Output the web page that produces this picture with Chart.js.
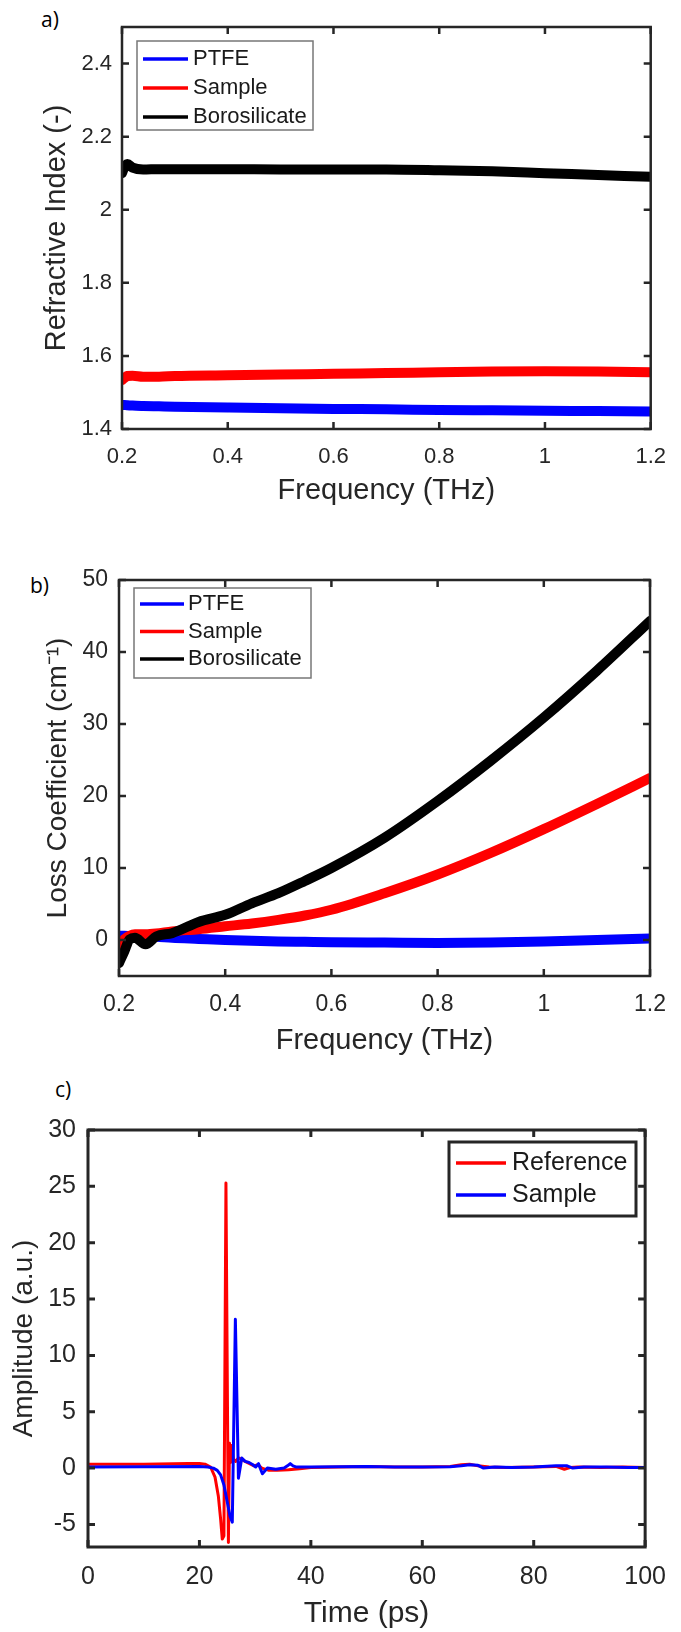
<!DOCTYPE html>
<html>
<head>
<meta charset="utf-8">
<script src="https://cdn.jsdelivr.net/npm/chart.js@4.4.1/dist/chart.umd.min.js"></script>
<style>
  body { margin: 0; background: #fff; }
  #page { position: relative; width: 681px; height: 1632px; overflow: hidden; }
  #page canvas { position: absolute; left: 0; }
  .tag { position: absolute; font-family: "Open Sans", sans-serif; font-size: 21px; line-height: 21px; color: #000; }
</style>
</head>
<body>
<div id="page">
  <div class="tag" style="left:41px; top:9px">a)</div>
  <div class="tag" style="left:30px; top:575px">b)</div>
  <div class="tag" style="left:55px; top:1079px">c)</div>
  <canvas id="chartA" width="681" height="508" style="top:0px"></canvas>
  <canvas id="chartB" width="681" height="538" style="top:520px"></canvas>
  <canvas id="chartC" width="681" height="562" style="top:1070px"></canvas>
</div>
<script>
// a) refractive index vs frequency
const freqA = [0.2, 0.205, 0.21, 0.22, 0.24, 0.27, 0.3, 0.4, 0.5, 0.6, 0.7, 0.8, 0.9, 1.0, 1.1, 1.2];
const ptfeA = [1.466, 1.466, 1.465, 1.464, 1.463, 1.462, 1.461, 1.459, 1.457, 1.455, 1.454, 1.452, 1.451, 1.450, 1.449, 1.448];
const sampleA = [1.534, 1.540, 1.545, 1.546, 1.543, 1.543, 1.545, 1.547, 1.549, 1.551, 1.553, 1.555, 1.557, 1.558, 1.557, 1.555];
const boroA = [2.100, 2.118, 2.125, 2.115, 2.110, 2.111, 2.111, 2.111, 2.110, 2.110, 2.110, 2.108, 2.105, 2.100, 2.095, 2.090];

// b) loss coefficient vs frequency
const freqB = [0.2, 0.21, 0.22, 0.23, 0.25, 0.27, 0.3, 0.35, 0.4, 0.45, 0.5, 0.55, 0.6, 0.7, 0.8, 0.9, 1.0, 1.1, 1.2];
const ptfeB = [0.6, 0.6, 0.55, 0.5, 0.5, 0.45, 0.3, 0.15, 0.0, -0.1, -0.2, -0.25, -0.3, -0.35, -0.4, -0.35, -0.2, 0.0, 0.2];
const sampleB = [-0.9, 0.1, 0.6, 0.8, 0.8, 0.9, 1.2, 1.5, 1.9, 2.3, 2.8, 3.4, 4.2, 6.5, 9.1, 12.1, 15.4, 18.9, 22.5];
const boroB = [-3.2, -1.6, 0.1, 0.3, -0.6, 0.5, 0.95, 2.5, 3.5, 5.1, 6.5, 8.2, 10.0, 14.2, 19.3, 24.9, 30.9, 37.4, 44.3];

// c) time domain signals
const refTime = [0, 10, 18, 20, 21, 22, 22.8, 23.4, 23.8, 24.1, 24.4, 24.76, 25.2, 25.4, 25.6, 25.8, 26.1, 26.5, 27.0, 27.5, 28.2, 29.0, 29.8, 30.5, 31.2, 32.5, 34, 36, 38, 40, 45, 50, 55, 60, 65, 67, 68.5, 70, 72, 75, 80, 84, 85.5, 86.5, 88, 92, 96, 100];
const refAmp = [0.35, 0.35, 0.4, 0.4, 0.35, 0.1, -0.8, -2.5, -4.5, -6.3, -6.0, 25.3, -6.6, 2.2, 0.5, 2.0, 0.8, 0.6, 0.9, 0.8, 0.6, 0.4, 0.2, 0.3, 0.0, -0.2, -0.2, -0.15, -0.05, 0.05, 0.1, 0.15, 0.1, 0.1, 0.15, 0.3, 0.35, 0.2, 0.1, 0.05, 0.1, 0.15, -0.1, 0.05, 0.1, 0.05, 0.1, 0.05];
const sampTime = [0, 10, 20, 21.5, 22.5, 23.2, 23.8, 24.4, 25.0, 25.5, 25.9, 26.45, 27.0, 27.6, 28.2, 28.9, 29.6, 30.1, 30.6, 31.3, 32.2, 33.7, 35.2, 35.8, 36.3, 36.8, 37.3, 40, 45, 50, 55, 60, 65, 67, 68.5, 70, 71, 73, 76, 80, 84, 86, 87, 89, 93, 97, 100];
const sampAmp = [0.1, 0.12, 0.15, 0.1, 0.0, -0.2, -0.6, -1.5, -3.0, -4.3, -4.8, 13.2, -0.9, 0.9, 0.6, 0.5, 0.3, 0.1, 0.4, -0.5, 0.0, -0.1, 0.0, 0.2, 0.4, 0.2, 0.1, 0.1, 0.12, 0.15, 0.1, 0.1, 0.12, 0.2, 0.3, 0.25, 0.0, 0.1, 0.05, 0.1, 0.2, 0.2, 0.0, 0.1, 0.1, 0.05, 0.05];

// tick values
const freqTicks = [0.2, 0.4, 0.6, 0.8, 1, 1.2];
const indexTicks = [1.4, 1.6, 1.8, 2, 2.2, 2.4];
const lossTicks = [0, 10, 20, 30, 40, 50];
const timeTicks = [0, 20, 40, 60, 80, 100];
const ampTicks = [-5, 0, 5, 10, 15, 20, 25, 30];

Chart.defaults.font.family = '"Liberation Sans", Arial, sans-serif';
Chart.defaults.color = '#262626';

const toPoints = (xs, ys) => xs.map((x, i) => ({ x: x, y: ys[i] }));

// MATLAB style box with ticks pointing inward on all four sides
const matlabBox = {
    id: 'matlabBox',
    afterDatasetsDraw(chart, args, opts) {
        const { ctx, chartArea: a, scales } = chart;
        const t = opts.tick;
        ctx.save();
        ctx.strokeStyle = opts.color;
        ctx.lineWidth = opts.width;
        ctx.beginPath();
        scales.x.ticks.forEach(tk => {
            const px = scales.x.getPixelForValue(tk.value);
            ctx.moveTo(px, a.bottom); ctx.lineTo(px, a.bottom - t);
            ctx.moveTo(px, a.top); ctx.lineTo(px, a.top + t);
        });
        scales.y.ticks.forEach(tk => {
            const py = scales.y.getPixelForValue(tk.value);
            ctx.moveTo(a.left, py); ctx.lineTo(a.left + t, py);
            ctx.moveTo(a.right, py); ctx.lineTo(a.right - t, py);
        });
        ctx.stroke();
        ctx.strokeRect(a.left, a.top, a.right - a.left, a.bottom - a.top);
        ctx.restore();
    }
};

// legend drawn as a box inside the axes
const boxLegend = {
    id: 'boxLegend',
    afterDraw(chart, args, o) {
        const ctx = chart.ctx;
        ctx.save();
        ctx.fillStyle = '#fff';
        ctx.fillRect(o.left, o.top, o.width, o.height);
        ctx.strokeStyle = o.border;
        ctx.lineWidth = o.borderWidth;
        ctx.strokeRect(o.left, o.top, o.width, o.height);
        const items = chart.data.datasets.slice().sort((p, q) => q.order - p.order);
        items.forEach((ds, i) => {
            const yy = o.top + o.firstRow + i * o.rowGap;
            ctx.strokeStyle = ds.borderColor;
            ctx.lineWidth = o.lineWidth;
            ctx.beginPath();
            ctx.moveTo(o.lineX, yy);
            ctx.lineTo(o.lineX + o.lineLen, yy);
            ctx.stroke();
            ctx.fillStyle = '#1a1a1a';
            ctx.font = o.font;
            ctx.textBaseline = 'middle';
            ctx.fillText(ds.label, o.textX, yy);
        });
        ctx.restore();
    }
};

function axis(min, max, tickList, fit, tickSize, tickPad, title, titleSize, titlePad, horizontal) {
    return {
        type: 'linear',
        min: min,
        max: max,
        afterBuildTicks: s => { s.ticks = tickList.map(v => ({ value: v })); },
        afterFit: s => { if (horizontal) { s.height = fit; } else { s.width = fit; } },
        grid: { display: false, drawTicks: false },
        border: { display: false },
        ticks: {
            padding: tickPad,
            autoSkip: false,
            maxRotation: 0,
            color: '#262626',
            font: { size: tickSize },
            callback: v => String(v)
        },
        title: {
            display: true,
            text: title,
            color: '#262626',
            font: { size: titleSize },
            padding: horizontal ? { top: 0, bottom: titlePad } : { top: titlePad, bottom: 0 }
        }
    };
}

function lineSet(label, xs, ys, color, width, order, smooth) {
    return {
        label: label,
        data: toPoints(xs, ys),
        borderColor: color,
        backgroundColor: color,
        borderWidth: width,
        pointRadius: 0,
        borderCapStyle: 'round',
        borderJoinStyle: 'round',
        cubicInterpolationMode: smooth ? 'monotone' : 'default',
        tension: 0,
        order: order
    };
}

const common = {
    responsive: false,
    animation: false,
    events: [],
    plugins: { legend: { display: false }, tooltip: { enabled: false } }
};

// Grafik a
new Chart(document.getElementById('chartA').getContext('2d'), {
    type: 'line',
    data: {
        datasets: [
            lineSet('PTFE', freqA, ptfeA, '#0000ff', 10, 3, true),
            lineSet('Sample', freqA, sampleA, '#ff0000', 10, 2, true),
            lineSet('Borosilicate', freqA, boroA, '#000000', 10, 1, true)
        ]
    },
    options: Object.assign({}, common, {
        layout: { padding: { top: 27, right: 18, left: 0, bottom: 0 } },
        scales: {
            x: axis(0.2, 1.2, freqTicks, 79, 22, 15, 'Frequency (THz)', 29, 0, true),
            y: axis(1.4, 2.5, indexTicks, 122, 22, 10, 'Refractive Index (-)', 29, 40, false)
        },
        plugins: Object.assign({}, common.plugins, {
            matlabBox: { color: '#262626', width: 2.5, tick: 7 },
            boxLegend: { left: 137, top: 41, width: 176, height: 89, firstRow: 18, rowGap: 29,
                lineX: 143, lineLen: 45, textX: 193, lineWidth: 3.5,
                font: '22px "Liberation Sans", Arial, sans-serif', border: '#777', borderWidth: 1.5 }
        })
    }),
    plugins: [matlabBox, boxLegend]
});

// Grafik b
new Chart(document.getElementById('chartB').getContext('2d'), {
    type: 'line',
    data: {
        datasets: [
            lineSet('PTFE', freqB, ptfeB, '#0000ff', 10, 3, true),
            lineSet('Sample', freqB, sampleB, '#ff0000', 10, 2, true),
            lineSet('Borosilicate', freqB, boroB, '#000000', 10, 1, true)
        ]
    },
    options: Object.assign({}, common, {
        layout: { padding: { top: 60, right: 30, left: 0, bottom: 0 } },
        scales: {
            x: axis(0.2, 1.2, freqTicks, 82, 23, 15, 'Frequency (THz)', 29, 0, true),
            y: axis(-5, 50, lossTicks, 119, 23, 11, 'Loss Coefficient (cm\u207B\u00B9)', 28, 41, false)
        },
        plugins: Object.assign({}, common.plugins, {
            matlabBox: { color: '#262626', width: 2.5, tick: 7 },
            boxLegend: { left: 134, top: 68, width: 177, height: 90, firstRow: 16, rowGap: 27.5,
                lineX: 140, lineLen: 44, textX: 188, lineWidth: 3.5,
                font: '22px "Liberation Sans", Arial, sans-serif', border: '#777', borderWidth: 1.5 }
        })
    }),
    plugins: [matlabBox, boxLegend]
});

// Grafik c
new Chart(document.getElementById('chartC').getContext('2d'), {
    type: 'line',
    data: {
        datasets: [
            lineSet('Reference', refTime, refAmp, '#ff0000', 3, 2, false),
            lineSet('Sample', sampTime, sampAmp, '#0000ff', 3, 1, false)
        ]
    },
    options: Object.assign({}, common, {
        layout: { padding: { top: 60, right: 33, left: 0, bottom: 0 } },
        scales: {
            x: axis(0, 100, timeTicks, 85, 25, 15, 'Time (ps)', 30, 0, true),
            y: axis(-7, 30, ampTicks, 88, 25, 12, 'Amplitude (a.u.)', 28, 7, false)
        },
        plugins: Object.assign({}, common.plugins, {
            matlabBox: { color: '#262626', width: 3, tick: 7 },
            boxLegend: { left: 449, top: 72, width: 187, height: 74, firstRow: 21, rowGap: 32,
                lineX: 456, lineLen: 50, textX: 512, lineWidth: 3.5,
                font: '25px "Liberation Sans", Arial, sans-serif', border: '#262626', borderWidth: 3 }
        })
    }),
    plugins: [matlabBox, boxLegend]
});
</script>
</body>
</html>
